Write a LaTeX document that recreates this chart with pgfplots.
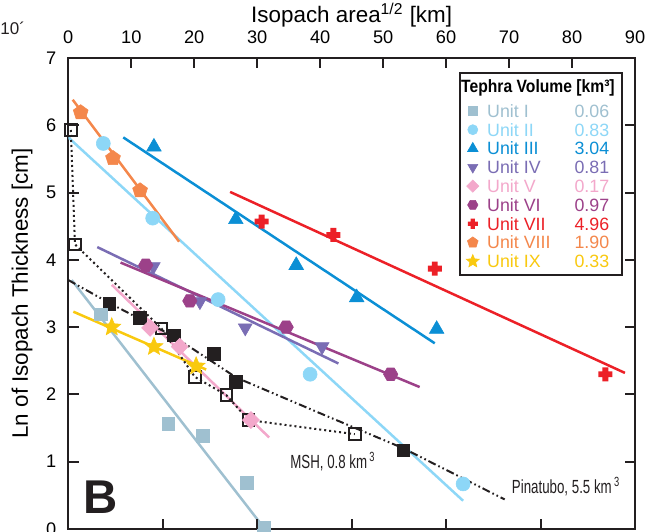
\documentclass[border=0pt]{standalone}
\usepackage{fontspec}
\setmainfont{Liberation Sans}
\newfontfamily\condfont[FakeStretch=0.88]{Liberation Sans}
\newfontfamily\narrowfont[FakeStretch=0.7]{Liberation Sans}
\usepackage{pgfplots}
\pgfplotsset{compat=1.18}
\usetikzlibrary{plotmarks}

\definecolor{cI}{HTML}{9FC0D0}
\definecolor{cII}{HTML}{8DD7F7}
\definecolor{cIII}{HTML}{0B8FD5}
\definecolor{cIV}{HTML}{7A6DB4}
\definecolor{cV}{HTML}{F3A8CB}
\definecolor{cVI}{HTML}{9C4189}
\definecolor{cVII}{HTML}{EC2027}
\definecolor{cVIII}{HTML}{F4874B}
\definecolor{cIX}{HTML}{F9C90F}
\definecolor{ink}{HTML}{231F20}

% extra marks
\pgfdeclareplotmark{hexagon*}{%
  \pgfpathmoveto{\pgfpointpolar{0}{\pgfplotmarksize}}%
  \pgfpathlineto{\pgfpointpolar{60}{\pgfplotmarksize}}%
  \pgfpathlineto{\pgfpointpolar{120}{\pgfplotmarksize}}%
  \pgfpathlineto{\pgfpointpolar{180}{\pgfplotmarksize}}%
  \pgfpathlineto{\pgfpointpolar{240}{\pgfplotmarksize}}%
  \pgfpathlineto{\pgfpointpolar{300}{\pgfplotmarksize}}%
  \pgfpathclose
  \pgfusepathqfillstroke}
\pgfdeclareplotmark{fatplus}{%
  \pgfpathrectangle{\pgfpoint{-\pgfplotmarksize}{-0.42\pgfplotmarksize}}{\pgfpoint{2\pgfplotmarksize}{0.84\pgfplotmarksize}}%
  \pgfpathrectangle{\pgfpoint{-0.42\pgfplotmarksize}{-\pgfplotmarksize}}{\pgfpoint{0.84\pgfplotmarksize}{2\pgfplotmarksize}}%
  \pgfusepathqfill}
\pgfdeclareplotmark{fstar}{%
  \pgfpathmoveto{\pgfpointpolar{90}{\pgfplotmarksize}}%
  \pgfpathlineto{\pgfpointpolar{126}{0.45\pgfplotmarksize}}%
  \pgfpathlineto{\pgfpointpolar{162}{\pgfplotmarksize}}%
  \pgfpathlineto{\pgfpointpolar{198}{0.45\pgfplotmarksize}}%
  \pgfpathlineto{\pgfpointpolar{234}{\pgfplotmarksize}}%
  \pgfpathlineto{\pgfpointpolar{270}{0.45\pgfplotmarksize}}%
  \pgfpathlineto{\pgfpointpolar{306}{\pgfplotmarksize}}%
  \pgfpathlineto{\pgfpointpolar{342}{0.45\pgfplotmarksize}}%
  \pgfpathlineto{\pgfpointpolar{18}{\pgfplotmarksize}}%
  \pgfpathlineto{\pgfpointpolar{54}{0.45\pgfplotmarksize}}%
  \pgfpathclose
  \pgfusepathqfillstroke}

\newcommand{\entry}[2]{\makebox[61pt]{#1\hfill #2}}

\begin{document}
\begin{tikzpicture}
\begin{axis}[
    name=ax,
    scale only axis,
    width=283.35pt, height=235.5pt,
    xmin=0, xmax=90, ymin=0, ymax=7,
    xtick={0,10,...,90}, ytick={0,1,...,7},
    xtick pos=upper, xticklabel pos=upper,
    ytick pos=both, yticklabel pos=lower,
    tick align=inside,
    major tick length=5.2pt,
    tick style={line width=1pt, color=ink},
    axis line style={line width=1pt, color=ink},
    /pgf/number format/assume math mode=true,
    tick label style={font=\fontsize{9.1}{10}\selectfont},
    xticklabel style={yshift=3.5pt},
    yticklabel style={xshift=-2.5pt},
    xlabel={Isopach area\textsuperscript{1/2} [km]},
    ylabel={Ln of Isopach Thickness [cm]},
    label style={font=\fontsize{11.2}{12}\selectfont},
    xlabel style={at={(axis description cs:0.5,1.0913)}, anchor=center},
    ylabel style={at={(axis description cs:-0.0817,0.5)}, anchor=center},
    legend style={at={(1,1)}, anchor=north east, xshift=-6.2pt, yshift=-6.9pt,
        draw=ink, line width=0.9pt, fill=white,
        inner xsep=2pt, inner ysep=2pt, row sep=0pt,
        font=\fontsize{8.9}{10}\selectfont,
        nodes={inner xsep=1.5pt, inner ysep=1.5pt, text height=6.4pt, text depth=0pt},
        /tikz/every odd column/.style={column sep=2.5pt},
        cells={anchor=west}},
    legend image code/.code={\draw[mark repeat=2,mark phase=2,#1] plot coordinates {(0pt,0pt) (4.5pt,0pt) (9pt,0pt)};},
    legend image post style={every mark/.append style={scale=0.72}},
]

% fitted lines
\addplot[forget plot, color=cI, line width=1.25pt] coordinates {(0.54,3.70) (31.3,-0.01)};
\addplot[forget plot, color=cII, line width=1.25pt] coordinates {(0,5.82) (62.7,0.42)};
\addplot[forget plot, color=cIII, line width=1.25pt] coordinates {(8.73,5.82) (58.2,2.76)};
\addplot[forget plot, color=cIV, line width=1.25pt] coordinates {(4.6,4.19) (42.9,2.46)};
\addplot[forget plot, color=cV, line width=1.25pt] coordinates {(6.9,3.63) (31.9,1.36)};
\addplot[forget plot, color=cVI, line width=1.25pt] coordinates {(8.3,3.96) (55.8,2.11)};
\addplot[forget plot, color=cVII, line width=1.25pt] coordinates {(25.7,5.01) (88.4,2.32)};
\addplot[forget plot, color=cVIII, line width=1.25pt] coordinates {(0.7,6.38) (17.6,4.27)};
\addplot[forget plot, color=cIX, line width=1.25pt] coordinates {(0.8,3.23) (21.9,2.37)};

% Pinatubo (dash-dot-dot) and MSH (dotted)
\addplot[forget plot, color=ink, line width=1pt,
    dash pattern=on 4pt off 1.5pt on 0.8pt off 1.5pt on 0.8pt off 1.5pt]
    coordinates {(0,3.70) (6.5,3.36) (11.2,3.13) (16.8,2.86) (26.7,2.25) (39.5,1.74) (53.2,1.20) (69.3,0.44)};
\addplot[forget plot, color=ink, line width=1pt, dash pattern=on 1pt off 1.5pt]
    coordinates {(0.4,5.93) (1.06,4.23) (14.8,2.98) (20.1,2.26) (25.1,1.99) (28.6,1.62) (45.5,1.41)};
\addplot[forget plot, only marks, color=ink, mark=square*, mark size=3.2pt, line width=0.3pt]
    coordinates {(6.5,3.35) (11.3,3.14) (16.8,2.88) (23.1,2.61) (26.6,2.19) (53.2,1.17)};
\addplot[forget plot, only marks, color=ink, mark=square, mark size=2.9pt, line width=1pt]
    coordinates {(0.4,5.93) (1.06,4.23) (14.8,2.98) (20.1,2.26) (25.1,1.99) (28.6,1.62) (45.5,1.41)};

% legend title
\addlegendimage{empty legend}
\addlegendentry[text depth=3pt]{\hspace*{-13pt}\condfont\bfseries Tephra Volume [km³]}

% data points
\addplot[only marks, color=cI, mark=square*, mark size=3.2pt, line width=0.3pt]
    coordinates {(5.19,3.19) (15.87,1.56) (21.4,1.38) (28.4,0.69) (31.1,0.02)};
\addlegendentry[text=cI]{\entry{Unit I}{0.06}}
\addplot[only marks, color=cII, mark=*, mark size=3.5pt, line width=0.3pt]
    coordinates {(5.56,5.73) (13.4,4.62) (23.8,3.41) (38.4,2.30) (62.7,0.67)};
\addlegendentry[text=cII]{\entry{Unit II}{0.83}}
\addplot[only marks, color=cIII, mark=triangle*, mark size=4.2pt, line width=0.3pt]
    coordinates {(13.6,5.68) (26.6,4.6) (36.2,3.92) (45.8,3.44) (58.5,2.97)};
\addlegendentry[text=cIII]{\entry{Unit III}{3.04}}
\addplot[only marks, color=cIV, mark=triangle*, mark options={rotate=180}, mark size=4pt, line width=0.3pt]
    coordinates {(13.5,3.90) (20.9,3.38) (28.1,2.99) (40.3,2.71)};
\addlegendentry[text=cIV]{\entry{Unit IV}{0.81}}
\addplot[only marks, color=cV, mark=square*, mark options={rotate=45}, mark size=3pt, line width=0.3pt]
    coordinates {(13.0,2.99) (17.7,2.71) (29.0,1.62)};
\addlegendentry[text=cV]{\entry{Unit V}{0.17}}
\addplot[only marks, color=cVI, mark=hexagon*, mark size=3.6pt, line width=0.3pt]
    coordinates {(12.3,3.92) (19.3,3.39) (34.6,3.0) (51.2,2.30)};
\addlegendentry[text=cVI]{\entry{Unit VI}{0.97}}
\addplot[only marks, color=cVII, mark=fatplus, mark size=3.5pt, line width=0.3pt]
    coordinates {(30.7,4.57) (42.1,4.37) (58.2,3.87) (85.3,2.30)};
\addlegendentry[text=cVII]{\entry{Unit VII}{4.96}}
\addplot[only marks, color=cVIII, mark=pentagon*, mark size=3.9pt, line width=0.3pt]
    coordinates {(1.97,6.19) (7.1,5.51) (11.4,5.03)};
\addlegendentry[text=cVIII]{\entry{Unit VIII}{1.90}}
\addplot[only marks, color=cIX, mark=fstar, mark size=4.7pt, line width=0.3pt]
    coordinates {(6.9,3.0) (13.6,2.71) (20.3,2.42)};
\addlegendentry[text=cIX]{\entry{Unit IX}{0.33}}

\node[anchor=west, inner sep=0pt, text=ink, font=\narrowfont\fontsize{9.5}{10}\selectfont]
    at (axis cs:35.2,1.0) {MSH, 0.8 km\textsuperscript{\,3}};
\node[anchor=west, inner sep=0pt, text=ink, font=\narrowfont\fontsize{9.5}{10}\selectfont]
    at (axis cs:70.4,0.63) {Pinatubo, 5.5 km\textsuperscript{\,3}};
\node[anchor=west, inner sep=0pt, text=ink, font=\bfseries\fontsize{23.7}{24}\selectfont]
    at (axis cs:2.4,0.475) {B};
\end{axis}

% ticks on the lower edge (no labels in view)
\begin{axis}[
    at={(ax.south west)}, anchor=south west,
    scale only axis,
    width=283.35pt, height=235.5pt,
    xmin=0, xmax=90, ymin=0, ymax=7,
    axis line style={draw=none},
    xtick={15,30,45,60,75}, xticklabels={},
    xtick pos=lower, ytick=\empty,
    tick align=inside,
    major tick length=5.2pt,
    tick style={line width=1pt, color=ink},
]
\addplot[draw=none] coordinates {(0,0) (90,7)};
\end{axis}

\node[anchor=west, inner sep=0pt, text=ink, font=\fontsize{8.5}{9}\selectfont]
    at ([shift={(-34.15pt,15pt)}]ax.north west) {10´};

\pgfresetboundingbox
\path[use as bounding box] ([shift={(-34.15pt,-1pt)}]ax.south west) rectangle ([shift={(8pt,29pt)}]ax.north east);
\end{tikzpicture}
\end{document}
